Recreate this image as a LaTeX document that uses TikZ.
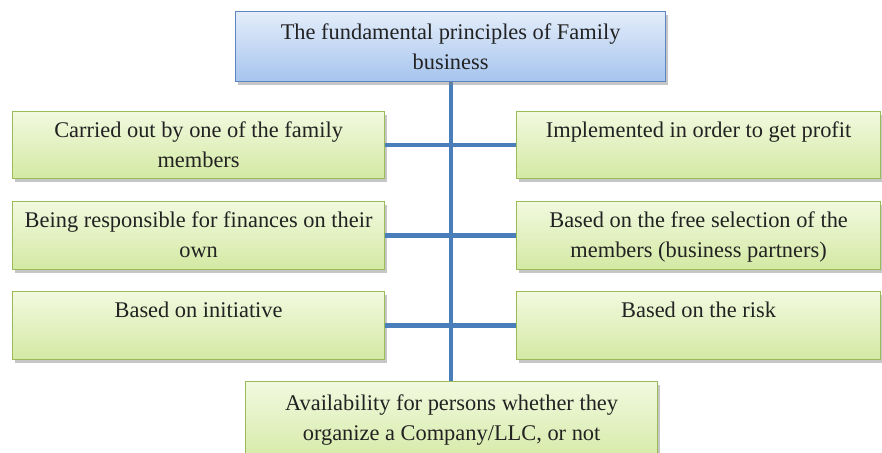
\documentclass[tikz,border=0pt]{standalone}
\usepackage{fontspec}
\setmainfont{Liberation Serif}
\usetikzlibrary{shadows}
\definecolor{gborder}{HTML}{9BBB59}
\definecolor{gtop}{HTML}{F2F9DF}
\definecolor{gbot}{HTML}{D3E9A3}
\definecolor{bborder}{HTML}{5B86C2}
\definecolor{btop}{HTML}{E4EDFA}
\definecolor{bbot}{HTML}{A6C4EE}
\definecolor{conn}{HTML}{4A7EBB}
\definecolor{txt}{HTML}{222222}
\tikzset{
  gbox/.style={draw=gborder, line width=1.2pt, top color=gtop, bottom color=gbot,
    inner sep=0pt, anchor=north west, text=txt,
    drop shadow={shadow xshift=2pt, shadow yshift=-3pt, opacity=0.45}},
  bbox/.style={draw=bborder, line width=1.2pt, top color=btop, bottom color=bbot,
    inner sep=0pt, anchor=north west, text=txt,
    drop shadow={shadow xshift=2pt, shadow yshift=-3pt, opacity=0.45}},
  link/.style={draw=conn, line width=4.5pt}
}
\newcommand{\boxtext}[4]{\parbox[c][#2pt][t]{#1pt}{\centering\fontsize{22.4}{29.5}\selectfont\rule{0pt}{#3pt}#4\par}}
\begin{document}
\begin{tikzpicture}[x=1pt,y=1pt]
\useasboundingbox (0,0) rectangle (882,-452);
% vertical trunk drawn first
\coordinate (vt) at (451,-81);
\coordinate (vb) at (451,-381);
\draw[link] (vt) -- (vb);
% top box
\node[bbox] (top) at (235,-11) {\boxtext{430}{70}{28}{The fundamental principles of Family\\business}};
% left boxes
\node[gbox] (l1) at (12,-111) {\boxtext{372}{67}{26}{Carried out by one of the family\\members}};
\node[gbox] (l2) at (12,-201) {\boxtext{372}{68}{26}{Being responsible for finances on their\\own}};
\node[gbox] (l3) at (12,-291) {\boxtext{372}{68}{26}{Based on initiative}};
% right boxes
\node[gbox] (r1) at (516,-111) {\boxtext{364}{67}{26}{Implemented in order to get profit}};
\node[gbox] (r2) at (516,-201) {\boxtext{364}{68}{26}{Based on the free selection of the\\members (business partners)}};
\node[gbox] (r3) at (516,-291) {\boxtext{364}{68}{26}{Based on the risk}};
% bottom box
\node[gbox] (bot) at (245,-381) {\boxtext{412}{85}{29}{Availability for persons whether they\\organize a Company/LLC, or not}};
% connectors
\draw[link] (l1.east) -- (r1.west);
\draw[link] (l2.east) -- (r2.west);
\draw[link] (l3.east) -- (r3.west);
\end{tikzpicture}
\end{document}
